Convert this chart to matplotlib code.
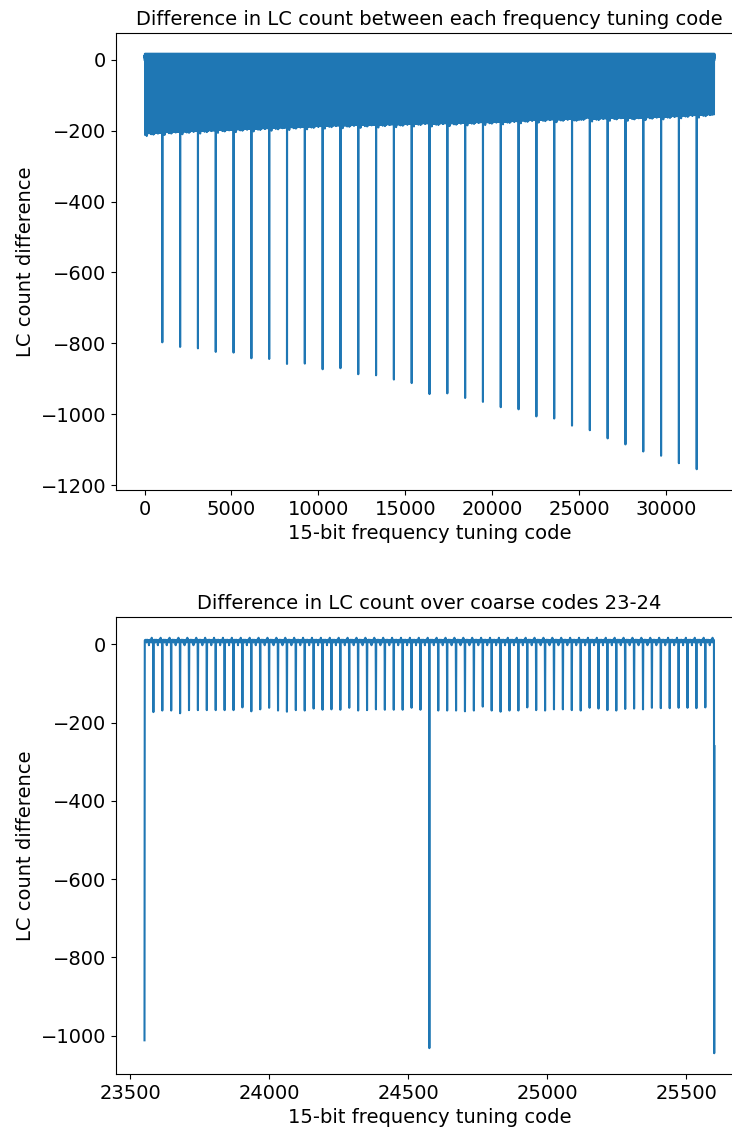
import numpy as np
import matplotlib
matplotlib.use("Agg")
import matplotlib.pyplot as plt

# ---- data ----
n_codes = 32768            # 15-bit tuning codes
coarse_size = 1024         # codes per coarse step
medium_size = 32           # codes per medium step

# LC count difference at each coarse-code boundary (coarse 1..31)
coarse_spikes = [-797, -810, -814, -824, -826, -842, -844, -858, -857, -873,
                 -870, -887, -890, -902, -912, -943, -941, -954, -965, -980,
                 -986, -1006, -1012, -1032, -1045, -1068, -1085, -1105, -1117,
                 -1138, -1155]

# typical difference at medium-code boundaries, per coarse code (0..31)
medium_levels = [-206, -203, -201, -199, -197, -195, -193, -191, -189, -187,
                 -185, -184, -183, -182, -181, -179, -179, -178, -176, -175,
                 -173, -170, -168, -167, -166, -165, -163, -163, -161, -159,
                 -156, -154]

# variation of medium-boundary differences around the level (medium 1..31)
medium_offsets = [-6, -2, -2, -9, -1, -1, -1, -1, -1, -1, 6, -4, 1, 5, -2,
                  -5, -1, -2, 3, 0, 1, 0, 5, -2, -1, 1, 0, 0, 0, 5, 0]

# medium-boundary differences read directly for coarse code 24
medium_dips_c24 = [-169, -169, -169, -171, -169, -159, -169, -172, -169, -169,
                   -161, -168, -169, -166, -166, -168, -169, -162, -164, -168,
                   -169, -165, -164, -166, -162, -163, -163, -162, -162, -163,
                   -161]

# differences between consecutive fine codes (fine 1..31)
fine_steps = [10, 11, 9, 10, 12, 9, 11, 5, 10, 12, 9, 11, 10, 9, 11, -2,
              10, 11, 9, 12, 10, 9, 11, 5, 10, 17, 9, 11, 10, 12, 10]

first_value = 10
tail_code = 25601
tail_value = -260

zoom_start = 23552         # coarse code 23
zoom_end = 25601

# ---- assemble the series ----
codes = np.arange(n_codes)
diff = np.empty(n_codes, dtype=float)
fine_idx = codes % medium_size
med_idx = (codes // medium_size) % (coarse_size // medium_size)
coarse_idx = codes // coarse_size

fine_arr = np.array([first_value] + fine_steps, dtype=float)
diff[:] = fine_arr[fine_idx]
off_arr = np.array([0] + medium_offsets, dtype=float)
lvl_arr = np.array(medium_levels, dtype=float)
mask_med = (fine_idx == 0) & (med_idx > 0)
diff[mask_med] = lvl_arr[coarse_idx[mask_med]] + off_arr[med_idx[mask_med]]
c24 = (coarse_idx == 24) & mask_med
diff[c24] = np.array([0] + medium_dips_c24, dtype=float)[med_idx[c24]]
mask_coarse = (fine_idx == 0) & (med_idx == 0) & (coarse_idx > 0)
diff[mask_coarse] = np.array(coarse_spikes, dtype=float)[coarse_idx[mask_coarse] - 1]
diff[tail_code] = tail_value

color = "#1f77b4"
fig = plt.figure(figsize=(7.32, 11.30), dpi=100)
W, H = 732, 1130
ax1 = fig.add_axes([116 / W, 1 - 490 / H, (743 - 116) / W, (490 - 33) / H])
ax2 = fig.add_axes([116 / W, 1 - 1074 / H, (743 - 116) / W, (1074 - 617) / H])

ax1.plot(codes, diff, color=color, linewidth=1.5)
ax1.set_title("Difference in LC count between each frequency tuning code", fontsize=14)
ax1.set_xlabel("15-bit frequency tuning code", fontsize=14)
ax1.set_ylabel("LC count difference", fontsize=14)
ax1.tick_params(labelsize=14)

sl = slice(zoom_start, zoom_end + 1)
ax2.plot(codes[sl], diff[sl], color=color, linewidth=1.5)
ax2.set_title("Difference in LC count over coarse codes 23-24", fontsize=14)
ax2.set_xlabel("15-bit frequency tuning code", fontsize=14)
ax2.set_ylabel("LC count difference", fontsize=14)
ax2.tick_params(labelsize=14)

fig.savefig("out.png", dpi=100)
